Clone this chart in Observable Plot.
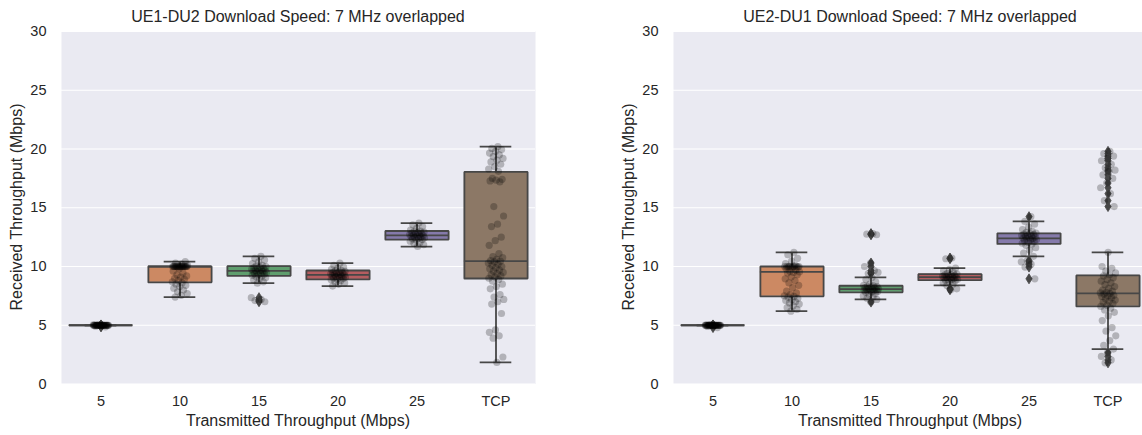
<!DOCTYPE html>
<html>
<head>
<meta charset="utf-8">
<script src="https://cdn.jsdelivr.net/npm/d3@7"></script>
<script src="https://cdn.jsdelivr.net/npm/@observablehq/plot@0.6"></script>
<style>
  html, body { margin: 0; padding: 0; background: #ffffff; }
  #page { position: relative; width: 1142px; height: 435px; overflow: hidden;
          font-family: "Liberation Sans", Arial, sans-serif; color: #262626; }
  .panel { position: absolute; top: 0; width: 560px; height: 435px; }
  .panel svg { position: absolute; left: 0; top: 0; overflow: visible; }
  .txt { position: absolute; white-space: nowrap; line-height: 1; transform: translate(-50%, -50%); }
  .title { font-size: 16px; }
  .xlabel { font-size: 16px; }
  .ylabel { font-size: 16px; transform: translate(-50%, -50%) rotate(-90deg); }
</style>
</head>
<body>
<div id="page"></div>
<script>
// Transmitted-rate categories on the x axis
const categories = ["5", "10", "15", "20", "25", "TCP"];
const yTicks = [0, 5, 10, 15, 20, 25, 30];
// Box colours (seaborn "deep" palette, desaturated as in boxplot)
const boxColors = ["#5875a4", "#cc8963", "#5f9e6e", "#b55d60", "#857aab", "#8c7866"];
const lineGray = "#474747";

// UE1-DU2: received throughput samples (Mbps) per transmitted rate
const ue1_5 = [5.0,5.0,5.0,5.0,5.0,5.0,5.0,5.0,5.0,5.0,5.0,5.0,5.0,5.0,5.0,5.0,5.0,5.0,5.0,5.0,5.0,5.0,5.0,5.0,5.0,5.0,5.0,5.0,4.98,4.96,4.92,4.86,5.02,5.03,4.99,5.01];
const ue1_10 = [10.0,10.0,10.0,10.0,10.0,10.0,10.0,10.0,10.0,10.0,10.0,10.0,10.0,10.0,10.02,9.98,9.97,10.03,10.05,9.95,10.1,10.2,10.3,10.42,9.8,9.6,9.45,9.3,9.2,9.1,9.0,8.9,8.8,8.7,8.6,8.5,8.4,8.3,8.15,8.0,7.85,7.7,7.55,7.4];
const ue1_15 = [10.87,10.7,10.55,10.4,10.25,10.1,10.05,10.0,9.95,9.9,9.85,9.8,9.75,9.7,9.68,9.65,9.62,9.6,9.58,9.55,9.5,9.45,9.4,9.35,9.3,9.25,9.2,9.15,9.05,8.95,8.85,8.7,8.58,7.35,7.2,7.1,7.0];
const ue1_20 = [10.28,10.1,9.95,9.85,9.75,9.68,9.62,9.58,9.52,9.48,9.44,9.4,9.36,9.32,9.3,9.28,9.25,9.22,9.18,9.14,9.1,9.06,9.02,8.98,8.93,8.88,8.8,8.7,8.6,8.48,8.33];
const ue1_25 = [13.7,13.55,13.4,13.25,13.1,13.02,12.98,12.92,12.88,12.84,12.8,12.76,12.72,12.68,12.66,12.64,12.6,12.56,12.52,12.48,12.44,12.4,12.35,12.3,12.25,12.15,12.05,11.95,11.85,11.7];
const ue1_tcp = [20.2,20.05,19.95,19.8,19.65,19.5,19.35,19.2,19.05,18.9,18.7,18.5,18.3,18.1,17.5,17.42,17.35,17.28,17.2,15.1,14.3,13.6,13.4,12.5,12.2,11.8,11.1,10.85,10.75,10.6,10.5,10.45,10.4,10.3,10.2,10.1,10.0,9.9,9.8,9.7,9.6,9.5,9.4,9.3,9.2,9.1,9.0,8.9,8.75,8.5,8.3,8.1,7.6,7.4,7.2,7.0,6.8,6.0,4.6,4.4,4.1,3.9,2.3,1.84];

// UE1-DU2: box summaries per category
const ue1Q1 = [5.0, 8.65, 9.21, 8.9, 12.29, 8.98];
const ue1Median = [5.0, 10.0, 9.63, 9.29, 12.65, 10.45];
const ue1Q3 = [5.0, 10.0, 10.03, 9.66, 13.02, 18.05];
const ue1WhiskerLow = [5.0, 7.4, 8.58, 8.33, 11.7, 1.84];
const ue1WhiskerHigh = [5.0, 10.42, 10.87, 10.28, 13.7, 20.2];

// UE2-DU1: received throughput samples (Mbps) per transmitted rate
const ue2_5 = [5.0,5.0,5.0,5.0,5.0,5.0,5.0,5.0,5.0,5.0,5.0,5.0,5.0,5.0,5.0,5.0,5.0,5.0,5.0,5.0,5.0,5.0,5.0,5.0,5.0,5.0,5.0,5.0,4.98,4.95,4.9,4.8,5.02,5.01,4.99,5.03];
const ue2_10 = [11.2,11.0,10.7,10.45,10.25,10.1,10.02,10.0,10.0,10.0,10.0,10.0,10.0,10.0,9.98,9.95,9.9,9.8,9.7,9.6,9.55,9.5,9.45,9.3,9.1,8.95,8.8,8.6,8.4,8.2,7.9,7.75,7.6,7.5,7.45,7.4,7.3,7.2,7.1,7.0,6.9,6.8,6.65,6.5,6.35,6.2];
const ue2_15 = [12.8,12.75,12.7,10.3,10.0,9.65,9.4,9.5,9.07,8.9,8.7,8.5,8.4,8.36,8.32,8.28,8.24,8.2,8.16,8.12,8.1,8.08,8.06,8.03,8.0,7.98,7.95,7.92,7.88,7.84,7.8,7.7,7.6,7.5,7.4,7.3,7.2,6.97];
const ue2_20 = [10.72,10.66,9.86,9.75,9.62,9.5,9.42,9.36,9.32,9.28,9.24,9.2,9.16,9.13,9.1,9.08,9.05,9.02,8.98,8.95,8.92,8.88,8.84,8.78,8.7,8.6,8.5,8.39,8.1,8.02];
const ue2_25 = [14.24,13.84,13.6,13.35,13.15,13.0,12.9,12.85,12.8,12.76,12.72,12.68,12.64,12.6,12.55,12.5,12.45,12.42,12.4,12.36,12.3,12.25,12.2,12.12,12.05,11.98,11.92,11.8,11.6,11.4,11.15,10.87,10.5,10.4,10.2,9.95,8.95];
const ue2_tcp = [19.8,19.6,19.4,19.2,19.0,18.7,18.4,18.2,18.1,17.8,17.5,17.1,16.7,16.2,15.6,15.1,11.21,10.0,9.85,9.6,9.45,9.3,9.2,9.05,8.9,8.75,8.6,8.45,8.3,8.15,8.0,7.9,7.8,7.75,7.7,7.65,7.55,7.5,7.45,7.35,7.25,7.15,7.05,6.95,6.85,6.7,6.6,6.45,6.3,6.1,5.8,5.4,4.8,4.5,4.1,3.7,3.3,2.97,2.65,2.35,2.05,1.8];

// UE2-DU1: box summaries per category
const ue2Q1 = [5.0, 7.46, 7.8, 8.84, 11.92, 6.61];
const ue2Median = [5.0, 9.55, 8.08, 9.1, 12.4, 7.71];
const ue2Q3 = [5.0, 10.0, 8.36, 9.35, 12.82, 9.24];
const ue2WhiskerLow = [5.0, 6.2, 7.2, 8.39, 10.87, 2.97];
const ue2WhiskerHigh = [5.0, 11.2, 9.07, 9.86, 13.84, 11.21];

// Thin diamond used for outliers (matplotlib "d" marker)
const thinDiamond = {
  draw(context, size) {
    const r = Math.sqrt(size / Math.PI);
    const w = r * 0.62;
    context.moveTo(0, -r);
    context.lineTo(w, 0);
    context.lineTo(0, r);
    context.lineTo(-w, 0);
    context.closePath();
  }
};

// Small deterministic horizontal spread for the strip points (in category units)
const spread = (k) => (((k + 1) * 0.6180339887) % 1 - 0.5) * 0.2;

function drawPanel(samples, q1, med, q3, lo, hi) {
  const stats = categories.map((c, i) => ({
    i, q1: q1[i], med: med[i], q3: q3[i], lo: lo[i], hi: hi[i], color: boxColors[i]
  }));
  const outline = stats.flatMap(s => [
    {i: s.i, x: s.i - 0.4, y: s.q1},
    {i: s.i, x: s.i + 0.4, y: s.q1},
    {i: s.i, x: s.i + 0.4, y: s.q3},
    {i: s.i, x: s.i - 0.4, y: s.q3},
    {i: s.i, x: s.i - 0.4, y: s.q1}
  ]);
  const points = samples.flatMap((vals, i) => vals.map((v, k) => ({i, v, j: spread(k)})));
  const fliers = points.filter(p => p.v < lo[p.i] - 1e-9 || p.v > hi[p.i] + 1e-9);
  const sw = 1.8;
  return Plot.plot({
    width: 560,
    height: 435,
    marginLeft: 61,
    marginRight: 25,
    marginTop: 31,
    marginBottom: 51.5,
    style: {fontFamily: "'Liberation Sans', Arial, sans-serif", fontSize: "14.5px", color: "#262626", background: "transparent"},
    x: {domain: [-0.5, 5.5], ticks: d3.range(6), tickFormat: i => categories[i], tickSize: 0, tickPadding: 12, label: null},
    y: {domain: [0, 30], ticks: yTicks, tickSize: 0, tickPadding: 15, label: null},
    marks: [
      Plot.frame({fill: "#eaeaf2", stroke: "none"}),
      Plot.ruleY(yTicks, {stroke: "#ffffff", strokeWidth: 1.2}),
      Plot.rect(stats, {x1: d => d.i - 0.4, x2: d => d.i + 0.4, y1: "q1", y2: "q3", fill: d => d.color}),
      Plot.ruleX(stats, {x: "i", y1: "q3", y2: "hi", stroke: lineGray, strokeWidth: sw}),
      Plot.ruleX(stats, {x: "i", y1: "lo", y2: "q1", stroke: lineGray, strokeWidth: sw}),
      Plot.ruleY(stats, {y: "hi", x1: d => d.i - 0.2, x2: d => d.i + 0.2, stroke: lineGray, strokeWidth: sw}),
      Plot.ruleY(stats, {y: "lo", x1: d => d.i - 0.2, x2: d => d.i + 0.2, stroke: lineGray, strokeWidth: sw}),
      Plot.line(outline, {x: "x", y: "y", z: "i", stroke: lineGray, strokeWidth: sw, strokeLinejoin: "miter", curve: "linear"}),
      Plot.ruleY(stats, {y: "med", x1: d => d.i - 0.4, x2: d => d.i + 0.4, stroke: lineGray, strokeWidth: sw}),
      Plot.dot(fliers, {x: "i", y: "v", r: 5, symbol: thinDiamond, fill: lineGray, stroke: lineGray, strokeWidth: 0.8}),
      Plot.dot(points, {x: d => d.i + d.j, y: "v", r: 3.6, fill: "#000000", fillOpacity: 0.24, stroke: "none"})
    ]
  });
}

const panels = [
  {
    left: 0,
    title: "UE1-DU2 Download Speed: 7 MHz overlapped",
    chart: drawPanel([ue1_5, ue1_10, ue1_15, ue1_20, ue1_25, ue1_tcp], ue1Q1, ue1Median, ue1Q3, ue1WhiskerLow, ue1WhiskerHigh)
  },
  {
    left: 612,
    title: "UE2-DU1 Download Speed: 7 MHz overlapped",
    chart: drawPanel([ue2_5, ue2_10, ue2_15, ue2_20, ue2_25, ue2_tcp], ue2Q1, ue2Median, ue2Q3, ue2WhiskerLow, ue2WhiskerHigh)
  }
];

const page = document.getElementById("page");
for (const p of panels) {
  const div = document.createElement("div");
  div.className = "panel";
  div.style.left = p.left + "px";
  div.appendChild(p.chart);
  const add = (cls, text, x, y) => {
    const t = document.createElement("div");
    t.className = "txt " + cls;
    t.textContent = text;
    t.style.left = x + "px";
    t.style.top = y + "px";
    div.appendChild(t);
  };
  add("title", p.title, 298, 17);
  add("xlabel", "Transmitted Throughput (Mbps)", 298, 421);
  add("ylabel", "Received Throughput (Mbps)", 17, 207);
  page.appendChild(div);
}
</script>
</body>
</html>
